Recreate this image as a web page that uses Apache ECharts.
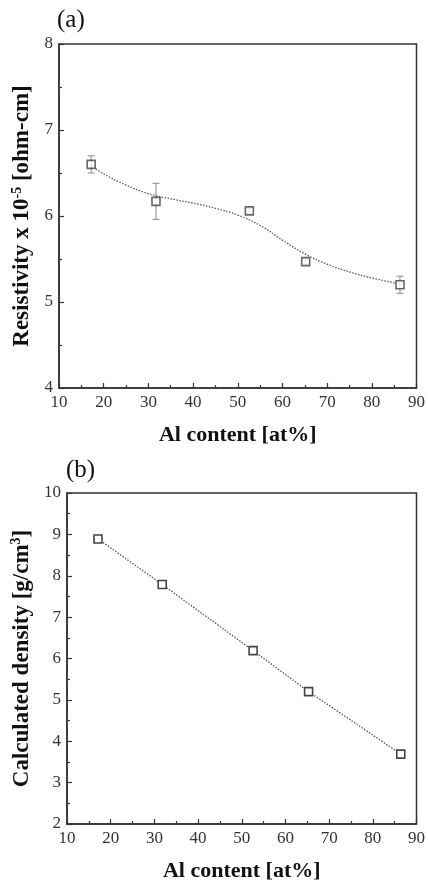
<!DOCTYPE html>
<html>
<head>
<meta charset="utf-8">
<script src="https://cdn.jsdelivr.net/npm/echarts@6/dist/echarts.min.js"></script>
<style>
  html, body { margin: 0; padding: 0; background: #fff; }
  #chart { width: 428px; height: 883px; }
</style>
</head>
<body>
<div id="chart"></div>
<script>
// (a) resistivity vs Al content
const resAl = [17.2, 31.7, 52.6, 65.2, 86.3]
const resVal = [6.60, 6.17, 6.06, 5.47, 5.20]
const resErr = [0.10, 0.21, 0.03, 0.03, 0.10]
// dotted fit curve
const fitAl = [17.2, 20, 25, 30, 35, 40, 45, 50, 55, 60, 65, 70, 75, 80, 86.3]
const fitVal = [6.59, 6.49, 6.36, 6.26, 6.20, 6.15, 6.09, 6.01, 5.89, 5.72, 5.56, 5.44, 5.35, 5.28, 5.21]
// (b) calculated density vs Al content
const denAl = [17.1, 31.8, 52.6, 65.3, 86.4]
const denVal = [8.89, 7.79, 6.19, 5.20, 3.69]

const FONT = 'Liberation Serif'
const DARK = '#333'

const chart = echarts.init(document.getElementById('chart'))

function xAxisCfg(gridIndex) {
  return {
    gridIndex: gridIndex,
    type: 'value',
    min: 10,
    max: 90,
    interval: 10,
    name: 'Al content [at%]',
    nameLocation: 'middle',
    nameGap: 36,
    nameTextStyle: { fontFamily: FONT, fontSize: 22, fontWeight: 'bold', color: '#111' },
    axisLine: { show: true, lineStyle: { color: DARK, width: 1.5 } },
    axisTick: { show: true, inside: true, length: 5, lineStyle: { color: DARK, width: 1.2 } },
    minorTick: { show: true, splitNumber: 2, length: 3, lineStyle: { color: DARK, width: 1.2 } },
    axisLabel: { fontFamily: FONT, fontSize: 17, color: DARK, margin: 6 },
    splitLine: { show: false }
  }
}

function yAxisCfg(gridIndex, min, max, name, gap) {
  return {
    gridIndex: gridIndex,
    type: 'value',
    min: min,
    max: max,
    interval: 1,
    name: name,
    nameLocation: 'middle',
    nameGap: gap,
    nameTextStyle: {
      fontFamily: FONT, fontSize: 23, fontWeight: 'bold', color: '#111',
      rich: {
        s: { fontFamily: FONT, fontSize: 14, fontWeight: 'bold', color: '#111', verticalAlign: 'top', padding: [0, 0, 10, 0] }
      }
    },
    axisLine: { show: true, lineStyle: { color: DARK, width: 1.5 } },
    axisTick: { show: true, inside: true, length: 5, lineStyle: { color: DARK, width: 1.2 } },
    minorTick: { show: true, splitNumber: 2, length: 3, lineStyle: { color: DARK, width: 1.2 } },
    axisLabel: { fontFamily: FONT, fontSize: 17, color: DARK, margin: 6 },
    splitLine: { show: false }
  }
}

const symbolStyle = { color: '#fff', borderColor: '#444', borderWidth: 1.6 }

chart.setOption({
  backgroundColor: '#fff',
  animation: false,
  title: [
    { text: '(a)', left: 52, top: 3, textStyle: { fontFamily: FONT, fontSize: 25, fontWeight: 'normal', color: '#111' } },
    { text: '(b)', left: 61, top: 453, textStyle: { fontFamily: FONT, fontSize: 25, fontWeight: 'normal', color: '#111' } }
  ],
  grid: [
    { left: 59, top: 44, right: 7, height: 344, show: true, borderColor: DARK, borderWidth: 1.5, backgroundColor: 'transparent' },
    { left: 67, top: 493, right: 11, height: 333, show: true, borderColor: DARK, borderWidth: 1.5, backgroundColor: 'transparent' }
  ],
  xAxis: [xAxisCfg(0), xAxisCfg(1)],
  yAxis: [
    yAxisCfg(0, 4, 8, 'Resistivity x 10{s|-5} [ohm-cm]', 25),
    yAxisCfg(1, 2, 10, 'Calculated density [g/cm{s|3}]', 33)
  ],
  series: [
    {
      // error bars
      type: 'custom',
      xAxisIndex: 0,
      yAxisIndex: 0,
      data: resAl.map((x, i) => [x, resVal[i] - resErr[i], resVal[i] + resErr[i]]),
      encode: { x: 0, y: [1, 2] },
      renderItem: function (params, api) {
        const lo = api.coord([api.value(0), api.value(1)])
        const hi = api.coord([api.value(0), api.value(2)])
        const w = 3.5
        const style = { stroke: '#999', lineWidth: 1.2 }
        return {
          type: 'group',
          children: [
            { type: 'line', shape: { x1: hi[0], y1: hi[1], x2: lo[0], y2: lo[1] }, style: style },
            { type: 'line', shape: { x1: hi[0] - w, y1: hi[1], x2: hi[0] + w, y2: hi[1] }, style: style },
            { type: 'line', shape: { x1: lo[0] - w, y1: lo[1], x2: lo[0] + w, y2: lo[1] }, style: style }
          ]
        }
      },
      z: 1
    },
    {
      name: 'fit',
      type: 'line',
      xAxisIndex: 0,
      yAxisIndex: 0,
      data: fitAl.map((x, i) => [x, fitVal[i]]),
      smooth: true,
      showSymbol: false,
      lineStyle: { color: '#555', width: 1.3, type: [1.5, 1.5] },
      z: 2
    },
    {
      name: 'resistivity',
      type: 'scatter',
      xAxisIndex: 0,
      yAxisIndex: 0,
      data: resAl.map((x, i) => [x, resVal[i]]),
      symbol: 'rect',
      symbolSize: 8,
      itemStyle: symbolStyle,
      z: 3
    },
    {
      name: 'density',
      type: 'line',
      xAxisIndex: 1,
      yAxisIndex: 1,
      data: denAl.map((x, i) => [x, denVal[i]]),
      symbol: 'rect',
      symbolSize: 8,
      showAllSymbol: true,
      itemStyle: symbolStyle,
      lineStyle: { color: '#555', width: 1.3, type: [1.5, 1.5] },
      z: 3
    }
  ]
})
</script>
</body>
</html>
